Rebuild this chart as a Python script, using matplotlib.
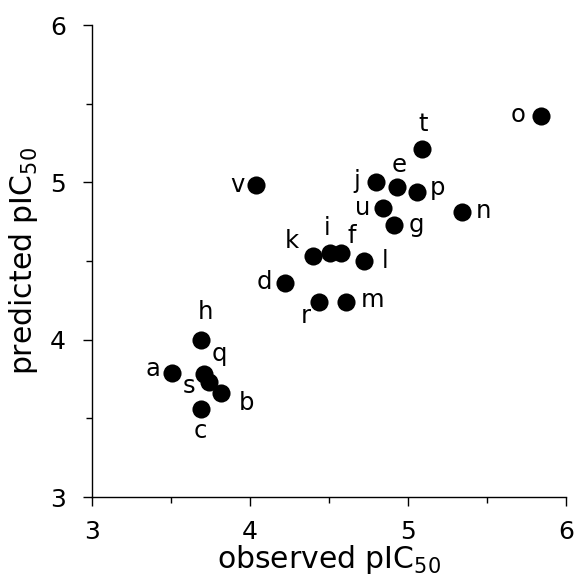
import matplotlib
matplotlib.use('Agg')
from matplotlib import pyplot as plt
from matplotlib.ticker import MultipleLocator

# compound ids and their observed / predicted pIC50
labels = ['a', 'b', 'c', 'd', 'e', 'f', 'g', 'h', 'i', 'j', 'k',
          'l', 'm', 'n', 'o', 'p', 'q', 'r', 's', 't', 'u', 'v']
observed = [3.51, 3.82, 3.69, 4.22, 4.93, 4.58, 4.91, 3.69, 4.51, 4.80, 4.40,
            4.72, 4.61, 5.34, 5.84, 5.06, 3.71, 4.44, 3.74, 5.09, 4.84, 4.04]
predicted = [3.79, 3.66, 3.56, 4.36, 4.97, 4.55, 4.73, 4.00, 4.55, 5.00, 4.53,
             4.50, 4.24, 4.81, 5.42, 4.94, 3.78, 4.24, 3.73, 5.21, 4.84, 4.98]

# where each letter sits relative to its dot (pixels, y up)
label_offsets = {
    'a': (-19, 4), 'b': (25, -10), 'c': (0, -22), 'd': (-20, 1),
    'e': (2, 22), 'f': (10, 17), 'g': (23, 0), 'h': (5, 28),
    'i': (-3, 25), 'j': (-20, 1), 'k': (-21, 15), 'l': (21, 0),
    'm': (26, 2), 'n': (22, 1), 'o': (-23, 1), 'p': (20, 4),
    'q': (15, 20), 'r': (-14, -14), 's': (-20, -4), 't': (1, 25),
    'u': (-20, 0), 'v': (-19, 0),
}

plt.rcParams['font.family'] = ['DejaVu Sans']

fig = plt.figure(figsize=(5.74, 5.79), dpi=100)
ax = fig.add_axes([0.1598, 0.1416, 0.8262, 0.8152])

ax.scatter(observed, predicted, s=170, color='black', zorder=3, linewidths=0)

for lab, x, y in zip(labels, observed, predicted):
    dx, dy = label_offsets[lab]
    ax.annotate(lab, (x, y), xytext=(dx, dy), textcoords='offset pixels',
                ha='center', va='center', fontsize=17.5)

ax.set_xlim(3, 6)
ax.set_ylim(3, 6)
ax.xaxis.set_major_locator(MultipleLocator(1))
ax.yaxis.set_major_locator(MultipleLocator(1))
ax.xaxis.set_minor_locator(MultipleLocator(0.5))
ax.yaxis.set_minor_locator(MultipleLocator(0.5))

for side in ['top', 'right']:
    ax.spines[side].set_visible(False)
for side in ['left', 'bottom']:
    ax.spines[side].set_linewidth(1.0)

ax.tick_params(which='major', direction='out', length=6.5, width=1.0,
               labelsize=18, pad=12)
ax.tick_params(which='minor', direction='out', length=4.5, width=1.0)
ax.tick_params(axis='x', which='major', pad=10)

ax.set_xlabel('observed pIC$_{50}$', fontsize=21.5, labelpad=-1)
ax.set_ylabel('predicted pIC$_{50}$', fontsize=21.5, labelpad=7)

plt.savefig('out.png', dpi=100)
